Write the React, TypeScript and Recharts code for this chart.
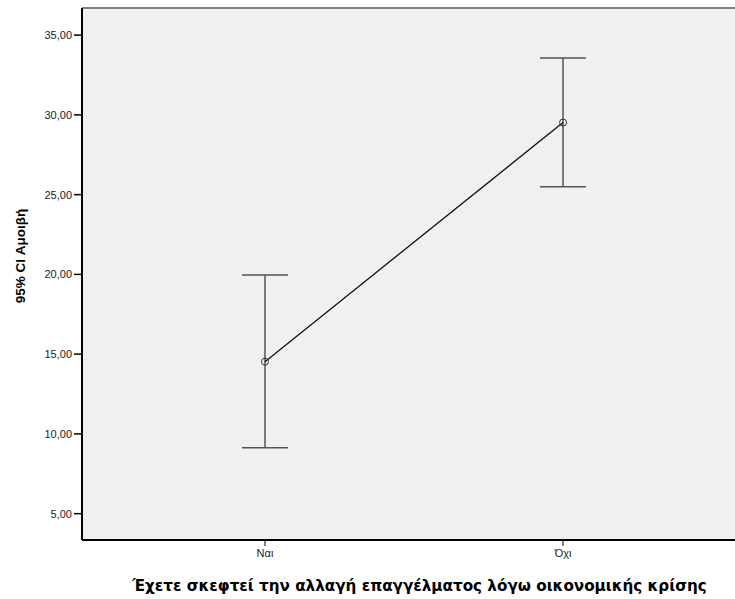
import React from 'react';
import { LineChart, Line, XAxis, YAxis, ErrorBar, CartesianGrid, ReferenceLine, Label } from 'recharts';

const categories = ['Ναι', 'Όχι'];
const means = [14.53, 29.52];
const lowerCI = [9.14, 25.5];
const upperCI = [19.96, 33.56];
const yTicks = [5, 10, 15, 20, 25, 30, 35];

const data = categories.map((c, i) => ({
  x: i + 1,
  name: c,
  mean: means[i],
  err: [means[i] - lowerCI[i], upperCI[i] - means[i]],
}));

const Y_MIN = 3.35;
const Y_MAX = 36.7;
const FONT = '"Liberation Sans", Arial, sans-serif';
const TITLE_FONT = '"DejaVu Sans", Verdana, sans-serif';

export default function App() {
  return (
    <div style={{ position: 'absolute', left: 0, top: 0, background: '#fff' }}>
      <LineChart
        width={735}
        height={599}
        data={data}
        margin={{ top: 8, right: 0, bottom: 0, left: 0 }}
      >
        <CartesianGrid fill="#f0f0f0" horizontal={false} vertical={false} />
        <ReferenceLine y={Y_MAX} stroke="#808080" strokeWidth={2} ifOverflow="extendDomain" />
        <XAxis
          dataKey="x"
          type="number"
          domain={[0.386, 2.577]}
          ticks={[1, 2]}
          tickFormatter={(v: number) => categories[v - 1]}
          axisLine={{ stroke: '#000', strokeWidth: 2 }}
          tickLine={{ stroke: '#000' }}
          tickSize={6}
          tickMargin={3}
          tick={{ fill: '#222', fontSize: 11, fontFamily: FONT }}
          height={59}
          allowDataOverflow
        >
          <Label
            value="Έχετε σκεφτεί την αλλαγή επαγγέλματος λόγω οικονομικής κρίσης"
            position="insideBottom"
            offset={8}
            dx={11}
            style={{ fontFamily: TITLE_FONT, fontWeight: 'bold', fontSize: 15.2, fill: '#000' }}
          />
        </XAxis>
        <YAxis
          type="number"
          domain={[Y_MIN, Y_MAX]}
          ticks={yTicks}
          tickFormatter={(v: number) => v.toFixed(2).replace('.', ',')}
          axisLine={{ stroke: '#000', strokeWidth: 2 }}
          tickLine={{ stroke: '#000', strokeWidth: 1.5 }}
          tickSize={8}
          tickMargin={2}
          tick={{ fill: '#222', fontSize: 11, fontFamily: FONT }}
          width={82}
          allowDataOverflow
        >
          <Label
            value="95% CI Αμοιβή"
            angle={-90}
            position="insideLeft"
            offset={20}
            dy={-18}
            style={{ fontFamily: FONT, fontWeight: 'bold', fontSize: 13.5, fill: '#000', textAnchor: 'middle' }}
          />
        </YAxis>
        <Line
          dataKey="mean"
          stroke="#111"
          strokeWidth={1.3}
          isAnimationActive={false}
          dot={{ r: 3.5, stroke: '#333', strokeWidth: 1, fill: 'none' }}
          activeDot={false}
        >
          <ErrorBar dataKey="err" direction="y" width={23} stroke="#555" strokeWidth={1.5} />
        </Line>
      </LineChart>
    </div>
  );
}
